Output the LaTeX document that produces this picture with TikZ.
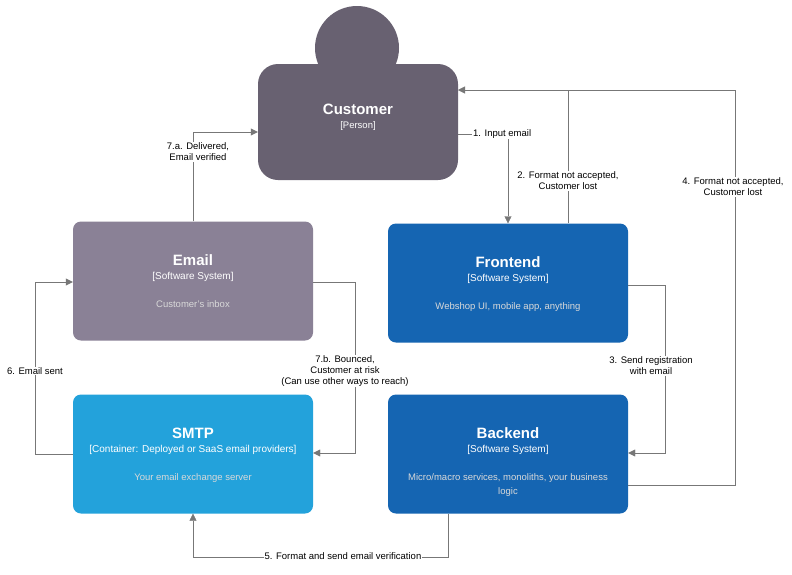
\documentclass[tikz,border=0pt]{standalone}
\usepackage{fontspec}
\setmainfont{Liberation Sans}
\usetikzlibrary{arrows.meta,positioning}
\definecolor{personc}{HTML}{686171}
\definecolor{extc}{HTML}{8A8196}
\definecolor{sysc}{HTML}{1565B2}
\definecolor{contc}{HTML}{23A2DB}
\definecolor{linec}{HTML}{777777}
\tikzset{
  box/.style={rounded corners=8pt, minimum width=240pt, minimum height=119pt, text=white, align=center, inner sep=0pt},
  rel/.style={draw=linec, -{Triangle[length=7pt,width=7pt]}},
  lbl/.style={fill=white, inner sep=1pt, font=\fontsize{9.5}{11}\selectfont, align=center}
}
\begin{document}
\begin{tikzpicture}[x=1pt,y=-1pt]
  \useasboundingbox[fill=white] (0,0) rectangle (792,574);

  % boxes
  \fill[personc] (357,48) circle (42);
  \node[box, fill=personc, minimum width=200pt, minimum height=116pt, rounded corners=20pt] (cust) at (358,122) {};
  \node[text=white, font=\bfseries\fontsize{15}{17}\selectfont] at (358,109) {Customer};
  \node[text=white, font=\fontsize{9.5}{11}\selectfont] at (358,126) {[Person]};

  \node[box, fill=extc] (email) at (193,281) {};
  \node[box, fill=sysc] (front) at (508,283) {};
  \node[box, fill=contc] (smtp) at (193,454) {};
  \node[box, fill=sysc] (back) at (508,454) {};

  \foreach \n/\t/\s/\d in {email/Email/Software System/Customer's inbox,
                           front/Frontend/Software System/{Webshop UI, mobile app, anything},
                           smtp/SMTP/Container: Deployed or SaaS email providers/Your email exchange server,
                           back/Backend/Software System/{Micro/macro services, monoliths, your business\\logic}}
  {
    \node[text=white, font=\bfseries\fontsize{15}{17}\selectfont] at ([yshift=21]\n.center) {\t};
    \node[text=white, font=\fontsize{10}{12}\selectfont] at ([yshift=4]\n.center) {[\s]};
    \node[text=white!85!black, font=\fontsize{9.5}{14}\selectfont, align=center, anchor=north] at ([yshift=-16]\n.center) {\d};
  }

  % connectors
  \draw[rel] (458,134) -- (508,134) -- (front.north -| 508,0);
  \node[lbl, anchor=west] at (472,134) {1. Input email};
  \draw[rel] (front.north -| 568,0) -- (568,90) -- (458,90);
  \node[lbl] at (568,181) {2. Format not accepted,\\Customer lost};
  \draw[rel] (front.east |- 0,285) -- (665,285) -- (665,453) -- (back.east |- 0,453);
  \node[lbl] at (651,366) {3. Send registration\\with email};
  \draw[draw=linec] (back.east |- 0,485) -- (735,485) -- (735,90) -- (568,90);
  \node[lbl] at (733,187) {4. Format not accepted,\\Customer lost};
  \draw[rel] (back.south -| 448,0) -- (448,557) -- (193,557) -- (smtp.south);
  \node[lbl] at (343,556) {5. Format and send email verification};
  \draw[rel] (smtp.west) -- (35,454) -- (35,282) -- (email.west |- 0,282);
  \node[lbl] at (35,371) {6. Email sent};
  \draw[rel] (email.north) -- (193,132) -- (cust.west |- 0,132);
  \node[lbl] at (198,152) {7.a. Delivered,\\Email verified};
  \draw[rel] (email.east |- 0,282) -- (355,282) -- (355,453) -- (smtp.east |- 0,453);
  \node[lbl] at (345,371) {7.b. Bounced,\\Customer at risk\\(Can use other ways to reach)};
\end{tikzpicture}
\end{document}
